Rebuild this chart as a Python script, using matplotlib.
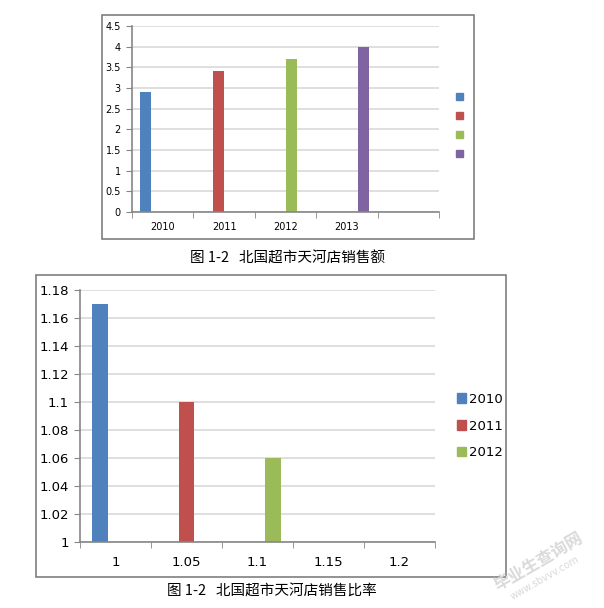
import numpy as np
import matplotlib
matplotlib.use('Agg')
from matplotlib import pyplot as plt
from matplotlib.patches import Rectangle, Patch

plt.rcParams['font.family'] = ['DejaVu Sans', 'Noto Sans CJK SC']

# top chart data: sales per year
sales_cats = ['2010', '2011', '2012', '2013', '']
sales_series = ['2010', '2011', '2012', '2013']
sales = [2.9, 3.4, 3.7, 4.0]

# bottom chart data: sales ratio
ratio_cats = ['1', '1.05', '1.1', '1.15', '1.2']
ratio_series = ['2010', '2011', '2012']
ratios = [1.17, 1.10, 1.06]

colors = ['#4F81BD', '#C0504D', '#9BBB59', '#8064A2']
grid_c = '#D9D9D9'
axis_c = '#868686'
cjk = ['Noto Sans CJK SC', 'DejaVu Sans']

W, H = 604, 608
fig = plt.figure(figsize=(W / 100, H / 100), dpi=100)


def box(x0, y0, x1, y1):
    fig.patches.append(Rectangle((x0 / W, 1 - y1 / H), (x1 - x0) / W, (y1 - y0) / H,
                                 transform=fig.transFigure, fill=False,
                                 edgecolor='#7F7F7F', linewidth=1.2))


def style(ax, cats, ymin, ymax, step, fs, xpad):
    n = len(cats)
    ax.set_xlim(-0.5, n - 0.5)
    ax.set_ylim(ymin, ymax)
    yt = np.arange(ymin, ymax + step / 2, step)
    ax.set_yticks(yt)
    ax.set_yticklabels(['{:g}'.format(round(v, 2)) for v in yt], fontsize=fs)
    ax.set_xticks(range(n))
    ax.set_xticklabels(cats, fontsize=fs)
    ax.set_xticks(np.arange(-0.5, n), minor=True)
    ax.tick_params(axis='x', which='major', length=0, pad=xpad)
    ax.tick_params(axis='x', which='minor', length=4, color=axis_c, direction='out')
    ax.tick_params(axis='y', length=4, color=axis_c, pad=4)
    ax.grid(axis='y', color=grid_c, linewidth=1.2)
    ax.set_axisbelow(True)
    for s in ['top', 'right']:
        ax.spines[s].set_visible(False)
    for s in ['left', 'bottom']:
        ax.spines[s].set_color(axis_c)
        ax.spines[s].set_linewidth(1.2)
        ax.spines[s].set_zorder(3)


# ---- top chart ----
box(102, 15, 474, 239)
ax1 = fig.add_axes([132 / W, 1 - 212 / H, 307 / W, 186 / H])
w1 = 0.184
n1 = len(sales_series)
for i, v in enumerate(sales):
    ax1.bar(i + (i - (n1 - 1) / 2) * w1, v, w1, color=colors[i], zorder=2)
style(ax1, sales_cats, 0, 4.5, 0.5, 7, 7)
fig.legend(handles=[Patch(color=c) for c in colors[:n1]], labels=[''] * n1,
           loc='center left', bbox_to_anchor=(446 / W, 1 - 126 / H),
           frameon=False, handlelength=0.6, handleheight=0.6,
           labelspacing=0.8, fontsize=8, handletextpad=0)
fig.text(288 / W, 1 - 258 / H, '图 1-2   北国超市天河店销售额', family=cjk,
         fontsize=10.5, ha='center', va='center')

# ---- bottom chart ----
box(36, 275, 506, 577)
ax2 = fig.add_axes([80 / W, 1 - 542 / H, 355 / W, 252 / H])
w2 = 0.216
n2 = len(ratio_series)
for i, v in enumerate(ratios):
    ax2.bar(i + (i - (n2 - 1) / 2) * w2, v, w2, color=colors[i], zorder=2)
style(ax2, ratio_cats, 1.0, 1.18, 0.02, 9.5, 10)
fig.legend(handles=[Patch(color=c) for c in colors[:n2]], labels=ratio_series,
           loc='center left', bbox_to_anchor=(445 / W, 1 - 426 / H),
           frameon=False, handlelength=0.7, handleheight=0.7,
           labelspacing=1.05, fontsize=9.5, handletextpad=0.2)
fig.text(272 / W, 1 - 592 / H, '图 1-2   北国超市天河店销售比率', family=cjk,
         fontsize=10.5, ha='center', va='center')

# watermark
fig.text(538 / W, 1 - 562 / H, '毕业生查询网', family=cjk, fontsize=12,
         color='#DADADA', rotation=30, ha='center', va='center', weight='bold')
fig.text(545 / W, 1 - 578 / H, 'www.sbvvv.com', fontsize=7,
         color='#DADADA', rotation=30, ha='center', va='center')

fig.savefig('out.png', dpi=100, facecolor='white')
